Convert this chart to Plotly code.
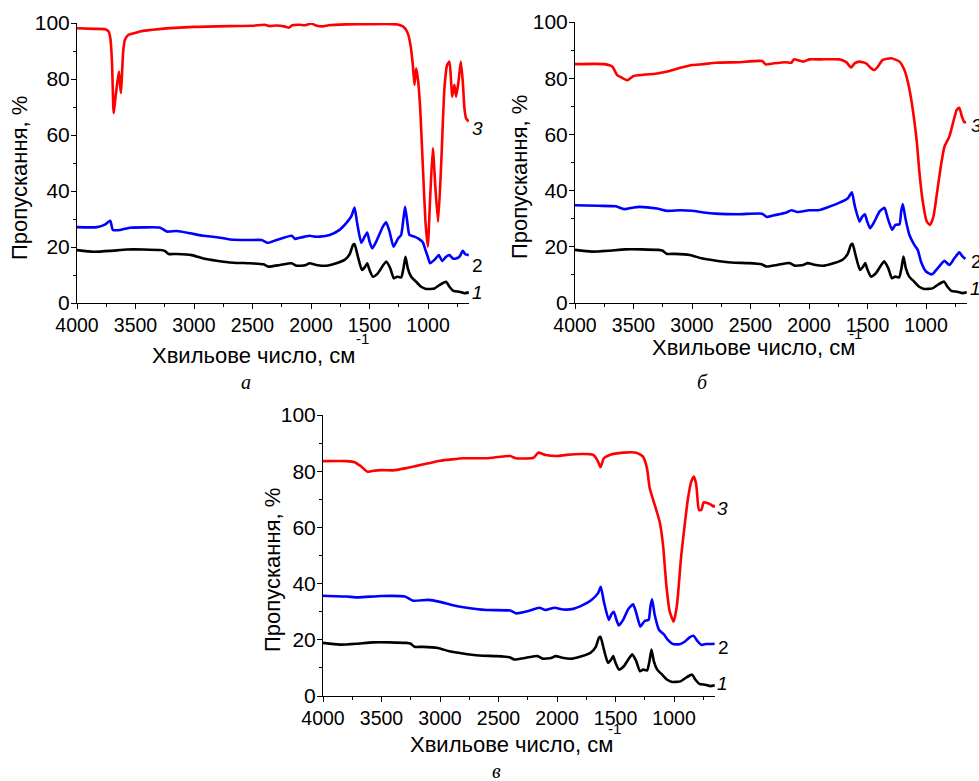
import plotly.graph_objects as go

# ---- spectra: wavenumber (cm^-1) and transmittance (%) ----
# curve 1 (same sample in all three panels)
wn_1 = [4000, 3858, 3716, 3573, 3431, 3289, 3250, 3218, 3147, 3019, 2919, 2806, 2663, 2521,
        2407, 2365, 2265, 2166, 2123, 2050, 2012, 1955, 1869, 1784, 1713, 1670, 1642, 1628,
        1599, 1565, 1537, 1520, 1500, 1471, 1429, 1358, 1323, 1292, 1264, 1230, 1210, 1193,
        1173, 1144, 1102, 1059, 1016, 945, 903, 846, 817, 783, 732, 689, 652]
t_1 = [18.9, 18.3, 18.6, 19.1, 19.1, 18.9, 18.6, 17.5, 17.5, 17.1, 15.9, 15.1, 14.4, 14.2,
       13.8, 13.0, 13.6, 14.2, 13.3, 13.5, 14.2, 13.6, 13.3, 14.2, 15.4, 17.4, 20.7, 21.0,
       16.5, 11.8, 13.0, 14.2, 11.8, 9.4, 10.6, 14.8, 12.4, 8.8, 9.4, 9.1, 12.4, 16.5,
       12.4, 9.4, 7.6, 5.8, 5.0, 5.2, 6.4, 7.6, 5.8, 4.3, 4.0, 3.5, 3.8]

# panel а
wn_2a = [4000, 3829, 3758, 3716, 3693, 3630, 3545, 3431, 3289, 3232, 3147, 3033, 2919, 2806,
         2692, 2521, 2422, 2370, 2294, 2166, 2137, 2097, 2054, 2012, 1969, 1926, 1841, 1756,
         1699, 1656, 1628, 1608, 1571, 1542, 1520, 1500, 1477, 1443, 1386, 1358, 1329, 1295,
         1258, 1230, 1210, 1196, 1178, 1159, 1116, 1079, 1045, 1022, 1002, 982, 945, 908, 880,
         846, 817, 789, 760, 732, 703, 681, 652]
t_2a = [27.1, 27.1, 28.1, 29.4, 26.1, 26.1, 26.9, 27.0, 26.9, 25.5, 25.7, 24.9, 24.0, 23.5,
        22.7, 22.5, 22.5, 21.5, 22.5, 24.0, 22.9, 23.3, 23.7, 24.0, 23.7, 23.7, 24.3, 26.1,
        28.5, 30.9, 34.1, 29.1, 21.5, 23.7, 25.2, 21.9, 19.5, 21.9, 27.3, 28.8, 25.5, 20.1,
        22.9, 24.3, 30.2, 34.4, 29.1, 24.3, 23.7, 22.9, 21.7, 18.9, 16.5, 14.2, 15.4, 17.1, 15.0,
        16.5, 17.1, 15.9, 15.9, 16.5, 18.6, 17.4, 17.1]
wn_3a = [4000, 3850, 3760, 3730, 3715, 3700, 3690, 3686, 3675, 3655, 3641, 3630, 3624, 3615,
         3605, 3590, 3560, 3500, 3460, 3300, 3000, 2700, 2500, 2400, 2350, 2300, 2220, 2190,
         2160, 2100, 2050, 2000, 1950, 1900, 1850, 1700, 1500, 1300, 1244, 1201, 1173, 1150,
         1130, 1116, 1102, 1087, 1067, 1045, 1022, 1002, 982, 959, 937, 914, 888, 860, 837,
         817, 803, 794, 775, 760, 740, 720, 703, 689, 675, 652]
t_3a = [98.1, 97.9, 97.8, 97.0, 94.5, 85.0, 70.0, 67.8, 72.0, 79.0, 82.7, 77.0, 75.0, 82.0,
        90.0, 94.0, 95.8, 96.5, 97.0, 97.8, 98.6, 98.9, 99.0, 99.4, 98.9, 99.1, 98.7, 98.3,
        99.2, 99.4, 99.2, 99.8, 99.0, 98.8, 99.2, 99.5, 99.6, 99.6, 99.3, 98.3, 96.3, 92.1,
        85.0, 77.9, 83.8, 80.2, 69.5, 49.3, 29.0, 20.1, 37.4, 55.3, 41.0, 29.0, 49.3, 76.7, 85.0,
        86.2, 79.0, 73.7, 77.9, 73.7, 79.0, 86.2, 79.0, 69.5, 66.0, 64.8]

# panel б
wn_2b = [4000, 3800, 3650, 3580, 3500, 3450, 3300, 3220, 3100, 3000, 2900, 2800, 2600, 2400,
         2360, 2300, 2200, 2150, 2100, 2000, 1910, 1825, 1739, 1668, 1634, 1611, 1569, 1546,
         1523, 1503, 1478, 1441, 1398, 1355, 1327, 1290, 1262, 1227, 1213, 1199, 1176, 1142,
         1099, 1071, 1043, 1000, 949, 900, 843, 801, 758, 716, 687, 664]
t_2b = [34.8, 34.6, 34.4, 33.4, 34.0, 34.2, 33.6, 32.8, 33.0, 32.8, 32.2, 31.8, 31.6, 31.8,
        30.6, 31.2, 32.1, 33.0, 32.4, 33.0, 33.1, 34.3, 35.7, 37.3, 39.4, 34.9, 29.0, 30.7,
        31.6, 29.0, 26.6, 29.0, 32.5, 33.9, 30.1, 26.0, 27.8, 28.0, 32.5, 35.2, 30.1, 24.2,
        20.6, 18.9, 14.7, 11.2, 10.2, 12.4, 15.0, 13.5, 15.9, 18.0, 16.5, 15.7]
wn_3b = [4000, 3750, 3680, 3640, 3600, 3550, 3500, 3450, 3300, 3200, 3100, 3000, 2900, 2800,
         2600, 2400, 2370, 2300, 2200, 2150, 2130, 2050, 1995, 1900, 1739, 1682, 1640, 1611,
         1569, 1512, 1469, 1441, 1412, 1370, 1298, 1227, 1185, 1156, 1128, 1099, 1079, 1057,
         1028, 994, 966, 937, 909, 872, 843, 801, 767, 738, 716, 693, 673, 659]
t_3b = [85.0, 85.0, 84.1, 81.1, 80.2, 79.3, 80.8, 81.1, 81.7, 82.5, 83.7, 84.7, 85.0, 85.5,
        85.7, 86.1, 84.9, 85.3, 85.7, 85.5, 86.7, 85.9, 86.7, 86.7, 86.7, 85.7, 83.8, 85.3,
        85.9, 85.3, 83.5, 82.9, 84.1, 86.5, 87.1, 85.9, 82.9, 78.8, 72.8, 64.5, 57.4, 46.7,
        36.1, 29.0, 27.8, 30.7, 38.4, 49.1, 55.6, 59.2, 64.5, 68.7, 69.5, 66.3, 64.3, 64.5]

# panel в
wn_2c = [4000, 3800, 3700, 3500, 3300, 3230, 3100, 3000, 2900, 2800, 2600, 2400, 2350, 2250,
         2150, 2100, 2020, 1950, 1862, 1777, 1706, 1649, 1626, 1600, 1558, 1535, 1515, 1492,
         1472, 1435, 1393, 1350, 1322, 1288, 1251, 1217, 1202, 1188, 1165, 1128, 1088, 1051,
         1009, 952, 909, 867, 833, 801, 767, 724, 682, 653]
t_2c = [35.7, 35.4, 35.1, 35.6, 35.4, 33.9, 34.2, 33.5, 32.4, 31.6, 30.6, 30.4, 29.4, 30.2,
        31.4, 30.6, 31.4, 30.8, 31.0, 32.4, 34.2, 36.6, 38.9, 33.6, 27.1, 29.1, 30.0, 27.1,
        25.1, 27.1, 30.8, 32.6, 29.4, 24.7, 26.7, 27.1, 31.8, 34.4, 28.8, 23.5, 22.0, 19.9,
        18.5, 18.4, 19.3, 20.9, 21.4, 19.6, 18.2, 18.5, 18.5, 18.6]
wn_3c = [4000, 3800, 3730, 3680, 3620, 3580, 3500, 3400, 3300, 3200, 3100, 3000, 2900, 2800,
         2600, 2400, 2350, 2200, 2160, 2100, 2000, 1919, 1777, 1691, 1649, 1629, 1600, 1549,
         1435, 1322, 1265, 1231, 1208, 1165, 1123, 1094, 1066, 1037, 1003, 975, 938, 909, 881,
         853, 830, 810, 787, 767, 747, 710, 682, 662, 653]
t_3c = [83.6, 83.6, 83.2, 81.9, 79.8, 80.1, 80.4, 80.3, 81.0, 81.9, 82.8, 83.7, 84.2, 84.6,
        84.6, 85.4, 84.6, 84.8, 86.6, 85.8, 85.4, 85.8, 86.1, 85.8, 83.4, 81.4, 84.6, 85.8,
        86.6, 86.6, 85.2, 81.0, 73.9, 68.0, 62.0, 53.7, 39.5, 30.0, 26.5, 32.4, 50.2, 60.9, 70.3,
        76.3, 78.1, 75.1, 66.2, 66.2, 68.9, 68.6, 68.0, 67.4, 68.0]

x_ticks = [4000, 3500, 3000, 2500, 2000, 1500, 1000]
y_ticks = [0, 20, 40, 60, 80, 100]
curve_labels = ["1", "2", "3"]
panel_labels = ["а", "б", "в"]
x_title = "Хвильове число, см"
x_title_sup = "-1"
y_title = "Пропускання, %"

W, H = 979, 781
SANS = "Liberation Sans, Arial, sans-serif"
SERIF = "Liberation Serif, Times New Roman, serif"

# panel boxes in pixels: (left, right, top, bottom)
panels = [(77, 469, 23, 303), (575, 967, 22, 303), (323, 715, 415, 696)]
series = [
    [(wn_1, t_1, "black"), (wn_2a, t_2a, "#0000ff"), (wn_3a, t_3a, "#ff0000")],
    [(wn_1, t_1, "black"), (wn_2b, t_2b, "#0000ff"), (wn_3b, t_3b, "#ff0000")],
    [(wn_1, t_1, "black"), (wn_2c, t_2c, "#0000ff"), (wn_3c, t_3c, "#ff0000")],
]

fig = go.Figure()
layout = dict(width=W, height=H, autosize=False,
              margin=dict(l=0, r=0, t=0, b=0, pad=0, autoexpand=False),
              paper_bgcolor="white", plot_bgcolor="white", showlegend=False)
annotations = []

def px(x):
    return x / W

def py(y):
    return 1 - y / H

for i, ((l, r, t, b), curves) in enumerate(zip(panels, series)):
    sfx = "" if i == 0 else str(i + 1)
    for wn, tr, col in curves:
        fig.add_trace(go.Scatter(x=wn, y=tr, mode="lines", cliponaxis=True,
                                 line=dict(color=col, width=2.6, shape="spline", smoothing=0.5),
                                 xaxis="x" + sfx, yaxis="y" + sfx, hoverinfo="skip"))
    common = dict(showline=True, linecolor="black", linewidth=1, ticks="outside",
                  tickcolor="black", ticklen=5, tickwidth=1, showgrid=False, zeroline=False,
                  automargin=False)
    layout["xaxis" + sfx] = dict(common, domain=[px(l), px(r)], range=[4000, 650],
                                 tickvals=x_ticks, anchor="y" + sfx,
                                 tickfont=dict(family=SANS, size=19.5, color="black"),
                                 minor=dict(dtick=250, tick0=0, ticks="outside", ticklen=3,
                                            tickcolor="black"))
    layout["yaxis" + sfx] = dict(common, domain=[py(b), py(t)], range=[0, 100],
                                 tickvals=y_ticks, anchor="x" + sfx, ticklabelstandoff=-3,
                                 tickfont=dict(family=SANS, size=21, color="black"),
                                 minor=dict(dtick=10, tick0=0, ticks="outside", ticklen=3,
                                            tickcolor="black"))

# axis titles, curve numbers and panel letters
title_pos = [
    dict(y=(20, 178), x=(253, 356), sup=(362, 338)),
    dict(y=(519, 177), x=(753, 348), sup=(855, 333)),
    dict(y=(272, 570), x=(511, 744), sup=(614, 728)),
]
num_pos = [
    [(477, 292), (477, 265), (477, 128)],
    [(975, 289), (976, 262), (976, 125)],
    [(722, 683), (723, 647), (722, 508)],
]
letter_pos = [(246, 382), (702, 382), (497, 771)]

for i in range(3):
    tp = title_pos[i]
    annotations.append(dict(x=px(tp["y"][0]), y=py(tp["y"][1]), xref="paper", yref="paper",
                            text=y_title, textangle=-90, showarrow=False,
                            font=dict(family=SANS, size=22, color="black"),
                            xanchor="center", yanchor="middle"))
    annotations.append(dict(x=px(tp["x"][0]), y=py(tp["x"][1]), xref="paper", yref="paper",
                            text=x_title, showarrow=False,
                            font=dict(family=SANS, size=22, color="black"),
                            xanchor="center", yanchor="middle"))
    annotations.append(dict(x=px(tp["sup"][0]), y=py(tp["sup"][1]), xref="paper", yref="paper",
                            text=x_title_sup, showarrow=False,
                            font=dict(family=SANS, size=15, color="black"),
                            xanchor="center", yanchor="middle"))
    for lab, (x, y) in zip(curve_labels, num_pos[i]):
        txt = lab if lab == "2" else "<i>" + lab + "</i>"
        annotations.append(dict(x=px(x), y=py(y), xref="paper", yref="paper", text=txt,
                                showarrow=False, font=dict(family=SANS, size=19, color="black"),
                                xanchor="center", yanchor="middle"))
    lx, ly = letter_pos[i]
    annotations.append(dict(x=px(lx), y=py(ly), xref="paper", yref="paper",
                            text="<i>" + panel_labels[i] + "</i>", showarrow=False,
                            font=dict(family=SERIF, size=20, color="black"),
                            xanchor="center", yanchor="middle"))

layout["annotations"] = annotations
fig.update_layout(**layout)
fig.write_html("out.html")
